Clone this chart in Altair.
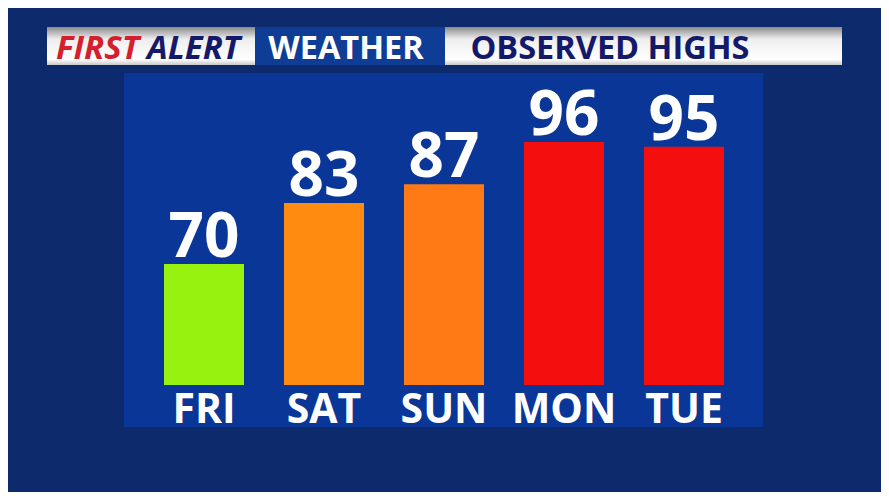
import altair as alt
import pandas as pd

# ---- data ----
days = ["FRI", "SAT", "SUN", "MON", "TUE"]
highs = [70, 83, 87, 96, 95]
bar_colors = ["#98f20f", "#ff8b10", "#ff7a15", "#f40e0e", "#f40e0e"]

title_left_red = "FIRST"
title_left_navy = "ALERT"
title_mid = "WEATHER"
title_right = "OBSERVED HIGHS"

BASE = 44.2  # value at bar baseline

df = pd.DataFrame({"day": days, "high": highs, "color": bar_colors})
one = pd.DataFrame({"k": [0]})

W, H = 873, 484
FONT = "Open Sans"
NAVY = "#15196a"
RED = "#d51f2d"

white_grad = alt.Gradient(
    gradient="linear",
    stops=[
        alt.GradientStop(color="#8a8a8a", offset=0),
        alt.GradientStop(color="#eeeeee", offset=0.32),
        alt.GradientStop(color="#ffffff", offset=0.85),
        alt.GradientStop(color="#c8c8c8", offset=1),
    ],
    x1=0, x2=0, y1=0, y2=1,
)

xs = alt.Scale(domain=days, range=[136, 736], paddingInner=1/3, paddingOuter=1/6)
ys = alt.Scale(domain=[BASE, 96], range=[377, 134], zero=False, nice=False)

panel = alt.Chart(one).mark_rect(color="#0a3697").encode(
    x=alt.value(116), x2=alt.value(755), y=alt.value(65), y2=alt.value(419)
)

hdr_white1 = alt.Chart(one).mark_rect(fill=white_grad).encode(
    x=alt.value(39), x2=alt.value(247), y=alt.value(19), y2=alt.value(57)
)
hdr_blue = alt.Chart(one).mark_rect(color="#0f3d96").encode(
    x=alt.value(247), x2=alt.value(437), y=alt.value(19), y2=alt.value(57)
)
hdr_white2 = alt.Chart(one).mark_rect(fill=white_grad).encode(
    x=alt.value(437), x2=alt.value(834), y=alt.value(19), y2=alt.value(57)
)

t_first = alt.Chart(one).mark_text(
    text=title_left_red, font=FONT, fontSize=33, fontWeight="bold", fontStyle="italic",
    color=RED, align="left", baseline="alphabetic"
).encode(x=alt.value(48), y=alt.value(51))
t_alert = alt.Chart(one).mark_text(
    text=title_left_navy, font=FONT, fontSize=33, fontWeight="bold", fontStyle="italic",
    color=NAVY, align="left", baseline="alphabetic"
).encode(x=alt.value(139), y=alt.value(51))
t_weather = alt.Chart(one).mark_text(
    text=title_mid, font=FONT, fontSize=32.5, fontWeight="bold",
    color="white", align="center", baseline="alphabetic"
).encode(x=alt.value(338), y=alt.value(51))
t_obs = alt.Chart(one).mark_text(
    text=title_right, font=FONT, fontSize=32.5, fontWeight="bold",
    color=NAVY, align="center", baseline="alphabetic"
).encode(x=alt.value(602), y=alt.value(51))

bars = alt.Chart(df).mark_bar().encode(
    x=alt.X("day:N", scale=xs, axis=None, sort=days),
    y=alt.Y("high:Q", scale=ys, axis=None),
    y2=alt.datum(BASE),
    color=alt.Color("color:N", scale=None),
)

vals = alt.Chart(df).mark_text(
    font=FONT, fontSize=62, fontWeight="bold", color="white",
    baseline="alphabetic", align="center", dy=-7
).encode(
    x=alt.X("day:N", scale=xs, axis=None, sort=days),
    y=alt.Y("high:Q", scale=ys, axis=None),
    text=alt.Text("high:Q"),
)

labels = alt.Chart(df).mark_text(
    font=FONT, fontSize=41, fontWeight="bold", color="white",
    baseline="alphabetic", align="center"
).encode(
    x=alt.X("day:N", scale=xs, axis=None, sort=days),
    y=alt.value(415),
    text="day:N",
)

chart = alt.layer(
    panel, hdr_white1, hdr_blue, hdr_white2, t_first, t_alert, t_weather, t_obs,
    bars, vals, labels
).properties(
    width=W, height=H,
    autosize=alt.AutoSizeParams(type="none"),
    padding=0,
    background="#0c2a6c",
).configure_view(stroke=None)

chart.save("out.html", embed_options={"renderer": "svg", "actions": False})
